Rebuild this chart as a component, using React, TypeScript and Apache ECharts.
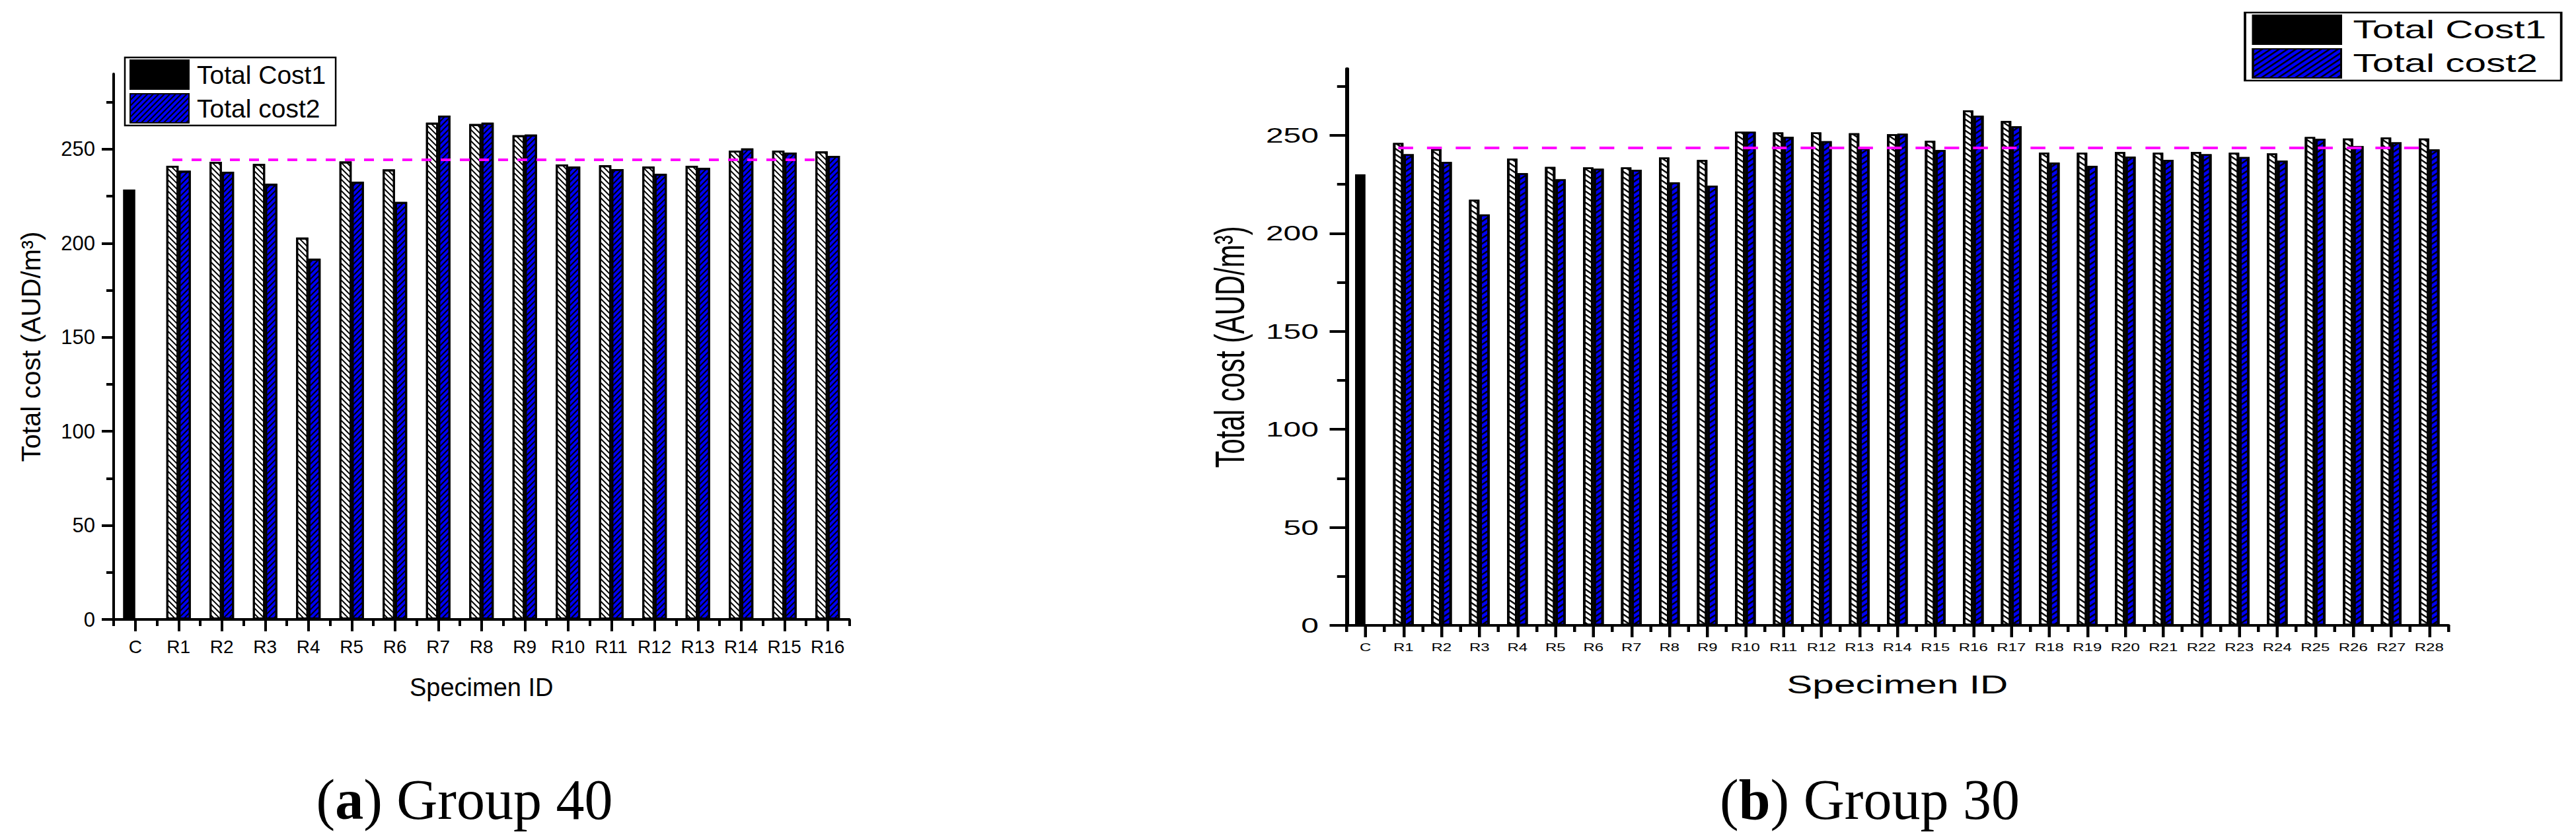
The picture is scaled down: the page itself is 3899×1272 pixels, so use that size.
import React, { useEffect, useRef } from 'react';
import * as echarts from 'echarts';

// ---------- data ----------
const CATEGORIES_A = ['C', 'R1', 'R2', 'R3', 'R4', 'R5', 'R6', 'R7', 'R8', 'R9', 'R10', 'R11', 'R12', 'R13', 'R14', 'R15', 'R16'];
const COST1_A = [228.6, 241.2, 243.3, 242.2, 203.0, 243.5, 239.3, 264.1, 263.4, 257.4, 241.9, 241.5, 240.8, 241.2, 249.3, 249.3, 248.8];
const COST2_A = [null, 238.6, 238.0, 231.6, 191.8, 232.7, 222.0, 267.9, 264.1, 257.8, 240.8, 239.4, 236.9, 240.1, 250.4, 248.2, 246.5];
const REF_A = 244.4;

const CATEGORIES_B = ['C', 'R1', 'R2', 'R3', 'R4', 'R5', 'R6', 'R7', 'R8', 'R9', 'R10', 'R11', 'R12', 'R13', 'R14', 'R15', 'R16', 'R17', 'R18', 'R19', 'R20', 'R21', 'R22', 'R23', 'R24', 'R25', 'R26', 'R27', 'R28'];
const COST1_B = [230.1, 246.1, 243.0, 217.1, 238.1, 233.9, 233.6, 233.6, 238.7, 237.4, 251.8, 251.5, 251.5, 251.1, 250.6, 247.2, 262.7, 257.3, 241.2, 241.1, 241.5, 241.1, 241.5, 241.1, 240.8, 249.1, 248.4, 248.9, 248.4];
const COST2_B = [null, 240.4, 236.4, 209.6, 230.7, 227.6, 233.0, 232.4, 226.0, 224.3, 251.8, 249.2, 247.0, 243.5, 250.8, 242.5, 260.0, 254.6, 236.1, 234.4, 239.1, 237.5, 240.4, 238.9, 237.1, 248.2, 244.5, 246.4, 242.8];
const REF_B = 243.8;

const Y_MAJOR_TICKS = [0, 50, 100, 150, 200, 250];
const Y_MINOR_TICKS = [25, 75, 125, 175, 225, 275];
const Y_MAX_A = 290;
const Y_MAX_B = 284;

const SERIES_NAMES = ['Total Cost1', 'Total cost2'];
const X_NAME = 'Specimen ID';
const Y_NAME = 'Total cost (AUD/m³)';
const CAPTION_LETTERS = ['a', 'b'];
const CAPTION_TEXTS = ['Group 40', 'Group 30'];

// ---------- styles ----------
const FONT = "'Liberation Sans', Arial, Helvetica, sans-serif";
const SERIF = "'Liberation Serif', 'Times New Roman', serif";
const BLUE = '#0000f5';
const MAGENTA = '#ff00ff';

function hatch(rotation: number, dash: number[]) {
  return {
    symbol: 'rect',
    symbolSize: 1,
    color: '#000',
    dashArrayX: [1, 0],
    dashArrayY: dash,
    rotation,
  };
}

function buildOption(cfg: any) {
  const whiteHatch = { color: '#fff', decal: hatch(Math.PI / 4, [2, 4]) };
  const c1Data = cfg.cats.map((c: string, i: number) =>
    c === 'C' ? cfg.c1[i] : { value: cfg.c1[i], itemStyle: whiteHatch }
  );
  const axisLineStyle = { color: '#000', width: cfg.axisW };
  return {
    animation: false,
    textStyle: { fontFamily: FONT, color: '#000' },
    grid: {
      left: cfg.grid[0],
      right: cfg.grid[1],
      top: cfg.grid[2],
      bottom: cfg.grid[3],
      containLabel: false,
      outerBoundsMode: 'none',
    },
    legend: {
      orient: 'vertical',
      left: cfg.legend[0],
      top: cfg.legend[1],
      data: SERIES_NAMES,
      icon: 'rect',
      itemWidth: 89,
      itemHeight: 44,
      itemGap: 5,
      padding: [3, 15, 3, 7],
      borderColor: '#000',
      borderWidth: 2.5,
      backgroundColor: '#fff',
      textStyle: { fontFamily: FONT, fontSize: 39, color: '#000', padding: [0, 0, 0, 7] },
      selectedMode: false,
    },
    xAxis: [
      {
        type: 'category',
        data: cfg.cats,
        boundaryGap: true,
        name: X_NAME,
        nameLocation: 'middle',
        nameGap: cfg.xNameGap,
        nameTextStyle: { fontFamily: FONT, fontSize: cfg.xNameSize, color: '#000' },
        axisLine: { show: true, lineStyle: axisLineStyle },
        axisTick: { show: true, alignWithLabel: true, interval: 0, length: 18, lineStyle: { color: '#000', width: cfg.xTickW } },
        axisLabel: { interval: 0, fontSize: cfg.xLabelSize, margin: cfg.xLabelMargin, color: '#000', fontFamily: FONT },
        splitLine: { show: false },
      },
      {
        type: 'category',
        data: cfg.cats,
        position: 'bottom',
        boundaryGap: true,
        axisLine: { show: false },
        axisTick: { show: true, alignWithLabel: false, interval: 0, length: 10, lineStyle: { color: '#000', width: cfg.xTickW } },
        axisLabel: { show: false },
        splitLine: { show: false },
      },
    ],
    yAxis: [
      {
        type: 'value',
        min: 0,
        max: cfg.ymax,
        name: Y_NAME,
        nameLocation: 'middle',
        nameGap: cfg.yNameGap,
        nameTextStyle: { fontFamily: FONT, fontSize: cfg.yNameSize, color: '#000' },
        axisLine: { show: true, lineStyle: axisLineStyle },
        axisTick: { show: true, length: cfg.yTickLen[0], customValues: Y_MAJOR_TICKS, lineStyle: { color: '#000', width: 4 } },
        axisLabel: { customValues: Y_MAJOR_TICKS, fontSize: cfg.yLabelSize, margin: cfg.yLabelMargin, color: '#000', fontFamily: FONT },
        splitLine: { show: false },
      },
      {
        type: 'value',
        min: 0,
        max: cfg.ymax,
        position: 'left',
        axisLine: { show: false },
        axisTick: { show: true, length: cfg.yTickLen[1], customValues: Y_MINOR_TICKS, lineStyle: { color: '#000', width: 4 } },
        axisLabel: { show: false },
        splitLine: { show: false },
      },
    ],
    series: [
      {
        name: SERIES_NAMES[0],
        type: 'bar',
        xAxisIndex: 0,
        yAxisIndex: 0,
        data: c1Data,
        barWidth: cfg.barWidth,
        barGap: '0%',
        itemStyle: { color: '#000', borderColor: '#000', borderWidth: cfg.borderW },
        markLine: {
          silent: true,
          symbol: ['none', 'none'],
          label: { show: false },
          lineStyle: { color: MAGENTA, width: 4, type: [15, 14], opacity: 1 },
          data: [[{ coord: ['R1', cfg.ref] }, { coord: [cfg.cats[cfg.cats.length - 1], cfg.ref] }]],
        },
        z: 2,
      },
      {
        name: SERIES_NAMES[1],
        type: 'bar',
        xAxisIndex: 0,
        yAxisIndex: 0,
        data: cfg.c2,
        barWidth: cfg.barWidth,
        barGap: '0%',
        itemStyle: { color: BLUE, borderColor: '#000', borderWidth: cfg.borderW, decal: hatch(-Math.PI / 4, [2, 4]) },
        z: 2,
      },
    ],
  };
}

const optionA: any = buildOption({
  cats: CATEGORIES_A,
  c1: COST1_A,
  c2: COST2_A,
  ref: REF_A,
  ymax: Y_MAX_A,
  grid: [172, 3899 - 1285.5, 112, 1272 - 938],
  legend: [189, 87],
  axisW: 4,
  xTickW: 4,
  xLabelSize: 28,
  xLabelMargin: 27,
  yLabelSize: 31,
  yLabelMargin: 28,
  yTickLen: [18, 11],
  xNameGap: 84,
  xNameSize: 38,
  yNameGap: 105,
  yNameSize: 40,
  barWidth: 18.5,
  borderW: 3,
});
optionA.graphic = [0, 1].map((i) => ({
  type: 'text',
  x: i === 0 ? 703 : 2830,
  y: 1211,
  style: {
    text: '({b|' + CAPTION_LETTERS[i] + '}) ' + CAPTION_TEXTS[i],
    fontSize: 86,
    fontFamily: SERIF,
    fill: '#000',
    align: 'center',
    verticalAlign: 'middle',
    rich: { b: { fontWeight: 'bold', fontSize: 86, fontFamily: SERIF, fill: '#000' } },
  },
}));

// Chart b is drawn in a local frame and stretched 1.5x horizontally like the original
const B_LEFT = 1700;
const B_SCALE = 1.5;
const B_WIDTH = (3899 - B_LEFT) / B_SCALE;
const toLocal = (x: number) => (x - B_LEFT) / B_SCALE;

const optionB: any = buildOption({
  cats: CATEGORIES_B,
  c1: COST1_B,
  c2: COST2_B,
  ref: REF_B,
  ymax: Y_MAX_B,
  grid: [toLocal(2038), B_WIDTH - toLocal(3705.5), 104, 1272 - 947],
  legend: [toLocal(3398), 19],
  axisW: 4,
  xTickW: 3,
  xLabelSize: 16,
  xLabelMargin: 26,
  yLabelSize: 32,
  yLabelMargin: 28,
  yTickLen: [17, 9.5],
  xNameGap: 70,
  xNameSize: 39,
  yNameGap: 97,
  yNameSize: 42,
  barWidth: 10.5,
  borderW: 2.5,
});

function EChart({ option, style }: { option: any; style: React.CSSProperties }) {
  const ref = useRef<HTMLDivElement>(null);
  useEffect(() => {
    const chart = echarts.init(ref.current as HTMLDivElement, null, { renderer: 'svg' });
    chart.setOption(option);
    return () => chart.dispose();
  }, [option]);
  return <div ref={ref} style={style} />;
}

export default function App() {
  return (
    <div
      style={{
        position: 'fixed',
        left: 0,
        top: 0,
        width: 3899,
        height: 1272,
        background: '#fff',
        overflow: 'hidden',
      }}
    >
      <EChart option={optionA} style={{ position: 'absolute', left: 0, top: 0, width: 3899, height: 1272 }} />
      <EChart
        option={optionB}
        style={{
          position: 'absolute',
          left: B_LEFT,
          top: 0,
          width: B_WIDTH,
          height: 1272,
          transform: `scaleX(${B_SCALE})`,
          transformOrigin: '0 0',
        }}
      />
    </div>
  );
}
